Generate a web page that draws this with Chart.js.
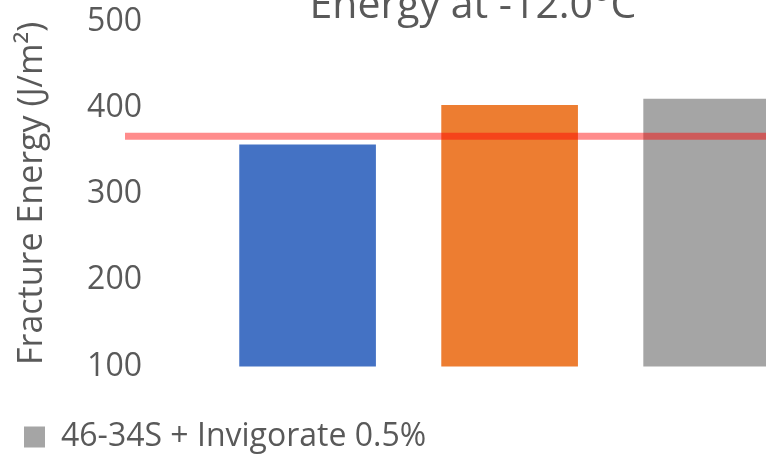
<!DOCTYPE html>
<html>
<head>
<meta charset="utf-8">
<script src="https://cdn.jsdelivr.net/npm/chart.js@4.4.0/dist/chart.umd.min.js"></script>
<style>
    html, body { margin: 0; padding: 0; background: #fff; overflow: hidden; }
    #frame { position: relative; width: 766px; height: 456px; overflow: hidden; }
    #wrap { position: absolute; left: 0; top: -50px; width: 946px; height: 513px; }
</style>
</head>
<body>
<div id="frame"><div id="wrap"><canvas id="chart"></canvas></div></div>
<script>
// values
const seriesNames = ['Series 1', 'Series 2', '46-34S + Invigorate 0.5%'];
const seriesValues = [357, 403, 410];
const seriesColors = ['#4472C4', '#ED7D31', '#A5A5A5'];
const thresholdValue = 367;
const yTicks = [100, 200, 300, 400, 500];

const textColor = '#595959';

// horizontal reference line drawn through the y scale
const thresholdLine = {
    id: 'thresholdLine',
    afterDatasetsDraw(chart) {
        const { ctx, chartArea, scales } = chart;
        const y = scales.y.getPixelForValue(thresholdValue);
        ctx.save();
        ctx.strokeStyle = 'rgba(255, 0, 0, 0.45)';
        ctx.lineWidth = 7;
        ctx.beginPath();
        ctx.moveTo(chartArea.left - 25, y);
        ctx.lineTo(chartArea.right, y);
        ctx.stroke();
        ctx.restore();
    }
};

// one bar per series, each at its own slot on the x axis
const datasets = seriesNames.map((name, i) => ({
    label: name,
    data: [{ x: i + 1, y: seriesValues[i] }],
    backgroundColor: seriesColors[i],
    borderWidth: 0,
    grouped: false,
    barThickness: 136
}));

const ctx = document.getElementById('chart').getContext('2d');
new Chart(ctx, {
    type: 'bar',
    data: { datasets: datasets },
    options: {
        responsive: true,
        maintainAspectRatio: false,
        animation: false,
        layout: { padding: 0 },
        plugins: {
            title: {
                display: true,
                text: 'Energy at -12.0°C',
                color: textColor,
                font: { family: 'Open Sans', size: 41, weight: 'normal', lineHeight: 0.6 },
                padding: { top: 44, bottom: 3 }
            },
            legend: {
                position: 'bottom',
                align: 'start',
                labels: {
                    filter: item => item.datasetIndex === 2,
                    color: textColor,
                    font: { family: 'Open Sans', size: 32 },
                    boxWidth: 21,
                    boxHeight: 21,
                    padding: 24
                }
            },
            tooltip: { enabled: false }
        },
        scales: {
            x: {
                type: 'linear',
                offset: false,
                min: 0.22,
                max: 4.16,
                grid: { display: false },
                border: { display: false },
                ticks: { display: false },
                afterFit: scale => { scale.height = 30.5; }
            },
            y: {
                min: 100,
                max: 500,
                afterBuildTicks: scale => { scale.ticks = yTicks.map(v => ({ value: v })); },
                afterFit: scale => { scale.width = 150; },
                grid: { display: false, drawTicks: false },
                border: { display: false },
                ticks: {
                    color: textColor,
                    font: { family: 'Open Sans', size: 32 },
                    padding: 8
                },
                title: {
                    display: true,
                    align: 'end',
                    text: 'Fracture Energy (J/m²)',
                    color: textColor,
                    font: { family: 'Open Sans', size: 34 },
                    padding: { top: 12, bottom: 0 }
                }
            }
        }
    },
    plugins: [thresholdLine]
});
</script>
</body>
</html>
